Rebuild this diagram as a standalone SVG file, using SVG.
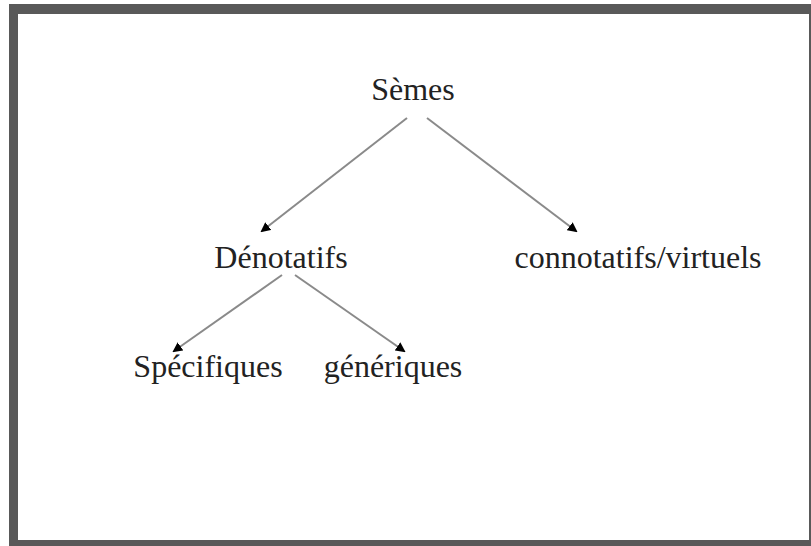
<svg xmlns="http://www.w3.org/2000/svg" width="811" height="546" viewBox="0 0 811 546">
<style>
.lbl{font-family:"Liberation Serif","Times New Roman",serif;font-size:32px;fill:#222;text-anchor:middle}
.edge{stroke:#8a8a8a;stroke-width:2;fill:none;marker-end:url(#ah)}
</style>
<defs>
<marker id="ah" markerWidth="10" markerHeight="10" refX="8" refY="5" orient="auto" markerUnits="userSpaceOnUse">
<path d="M0,0 L10,5 L0,10 Z" fill="#000"/>
</marker>
</defs>
<rect x="0" y="0" width="811" height="546" fill="#fff"/>
<path d="M9,4 H811 V546 H9 Z M18,14 V540 H809 V14 Z" fill="#595959" fill-rule="evenodd"/>
<g id="connectors">
<line class="edge" x1="407" y1="118" x2="262" y2="231"/>
<line class="edge" x1="427" y1="118" x2="576" y2="231"/>
<line class="edge" x1="282" y1="275" x2="174" y2="351"/>
<line class="edge" x1="295" y1="275" x2="404" y2="351"/>
</g>
<g id="semes"><text class="lbl" x="413" y="100">Sèmes</text></g>
<g id="denotatifs"><text class="lbl" x="281" y="268">Dénotatifs</text></g>
<g id="connotatifs"><text class="lbl" x="638" y="268">connotatifs/virtuels</text></g>
<g id="specifiques"><text class="lbl" x="208" y="377">Spécifiques</text></g>
<g id="generiques"><text class="lbl" x="393" y="377">génériques</text></g>
</svg>
